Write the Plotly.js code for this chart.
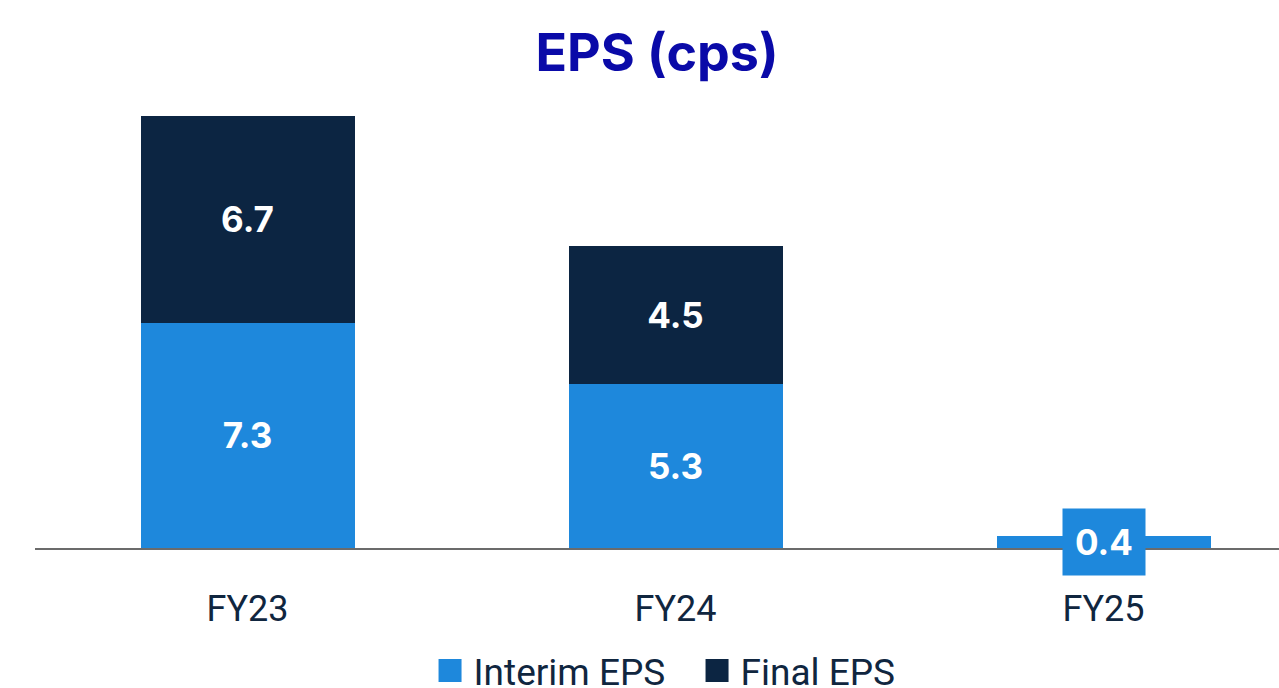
<!DOCTYPE html>
<html>
<head>
<meta charset="utf-8">
<script src="https://cdn.plot.ly/plotly-3.0.1.min.js"></script>
<style>
html,body{margin:0;padding:0;background:#fff;}
#chart{width:1279px;height:688px;}
</style>
</head>
<body>
<div id="chart"></div>
<script>
const categories = ['FY23', 'FY24', 'FY25'];
const interimEPS = [7.3, 5.3, 0.4];
const finalEPS = [6.7, 4.5, 0];
const seriesNames = ['Interim EPS', 'Final EPS'];

const cInterim = '#1E88DC';
const cFinal = '#0C2542';
const labelFont = {family: 'Inter, Roboto, sans-serif', size: 35, color: '#ffffff', weight: 700};

const traceInterim = {
  type: 'bar', name: seriesNames[0], x: categories, y: interimEPS,
  marker: {color: cInterim}, width: 0.5,
  text: interimEPS.map(v => v.toFixed(1)),
  textposition: interimEPS.map(v => v >= 2 ? 'inside' : 'none'),
  insidetextanchor: 'middle', textangle: 0, constraintext: 'none',
  insidetextfont: labelFont, hoverinfo: 'skip'
};
const traceFinal = {
  type: 'bar', name: seriesNames[1], x: categories, y: finalEPS,
  marker: {color: cFinal}, width: 0.5,
  text: finalEPS.map(v => v > 0 ? v.toFixed(1) : ''),
  textposition: finalEPS.map(v => v >= 2 ? 'inside' : 'none'),
  insidetextanchor: 'middle', textangle: 0, constraintext: 'none',
  insidetextfont: labelFont, hoverinfo: 'skip'
};

const smallAnn = [];
categories.forEach((c, i) => {
  if (interimEPS[i] < 2) {
    smallAnn.push({
      x: c, y: interimEPS[i] / 2, xref: 'x', yref: 'y',
      text: interimEPS[i].toFixed(1), showarrow: false,
      bgcolor: cInterim, borderpad: 12,
      font: labelFont, xanchor: 'center', yanchor: 'middle'
    });
  }
});

const layout = {
  width: 1279, height: 688,
  margin: {l: 35, r: 0, t: 100, b: 140, autoexpand: false},
  paper_bgcolor: '#ffffff', plot_bgcolor: '#ffffff',
  barmode: 'stack',
  showlegend: true,
  title: {
    text: 'EPS (cps)', x: 0.5, xref: 'paper', y: 1 - 53/688, yref: 'container', yanchor: 'middle',
    font: {family: 'Inter, sans-serif', size: 52, color: '#0A0AA8', weight: 700}
  },
  xaxis: {
    type: 'category', range: [-0.4965, 2.41], automargin: false,
    showline: true, linecolor: '#6b6b6b', linewidth: 2,
    showgrid: false, zeroline: false, ticks: '',
    tickfont: {family: 'Roboto, sans-serif', size: 36, color: '#10263F'},
    ticklabelstandoff: 28
  },
  yaxis: {
    range: [0, 14.52], visible: false, showgrid: false, zeroline: false, automargin: false
  },
  legend: {
    orientation: 'h', x: 0.535, xanchor: 'center', y: 1 - 671/688, yref: 'container', yanchor: 'middle',
    font: {family: 'Roboto, sans-serif', size: 37, color: '#10263F'},
    traceorder: 'normal', itemwidth: 30, entrywidth: 222
  },
  annotations: smallAnn
};

Plotly.newPlot('chart', [traceInterim, traceFinal], layout, {displayModeBar: false, staticPlot: true}).then(gd => {
  gd.querySelectorAll('.legend .legendpoints path').forEach(p => {
    p.setAttribute('d', 'M8,11.5H-15V-11.5H8Z');
  });
});
</script>
</body>
</html>
